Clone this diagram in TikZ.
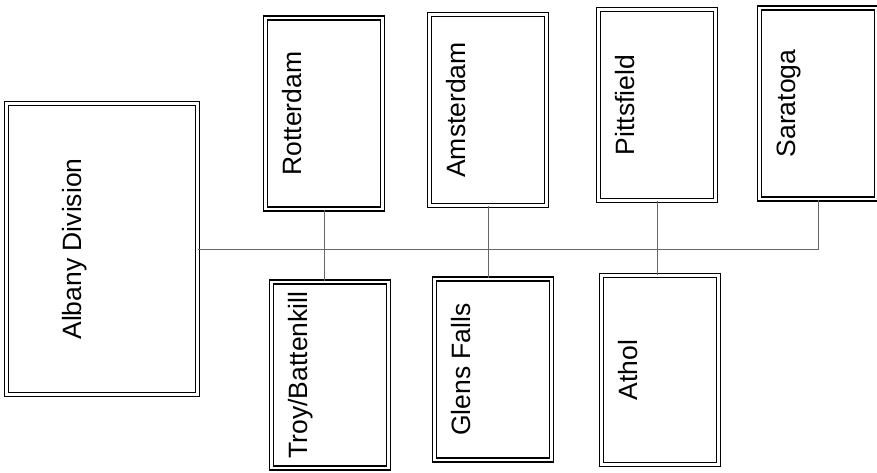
\documentclass[tikz,border=0pt]{standalone}
\usepackage{fontspec}
\setmainfont{Liberation Sans}
\usetikzlibrary{positioning}

\begin{document}
\begin{tikzpicture}[
  x=1pt, y=-1pt,
  box/.style={draw, double, line width=1.5pt, double distance=2.2pt, minimum width=117pt, minimum height=191pt, inner sep=0pt},
  lbl/.style={rotate=90, anchor=base, inner sep=0pt, font=\fontsize{26.5}{30}\selectfont},
  link/.style={draw=black!60, line width=0.6pt}
]
\useasboundingbox (0,0) rectangle (877,473);

\node[box, minimum width=191pt, minimum height=291pt] (albany) at (102,249) {};
\node[box] (rotterdam) at (324,113.5) {};
\node[box, minimum height=186pt] (troy) at (330,375) {};
\node[box] (amsterdam) at (488,110) {};
\node[box, minimum height=181pt] (glens) at (493,369.5) {};
\node[box] (pittsfield) at (657,105) {};
\node[box, minimum height=189pt] (athol) at (660,370) {};
\node[box] (saratoga) at (818,103.5) {};

\node[lbl] (albany-t) at ([xshift=76pt]albany.west) {Albany Division};
\node[lbl] (rotterdam-t) at ([xshift=37pt]rotterdam.west) {Rotterdam};
\node[lbl] (troy-t) at ([xshift=37pt]troy.west) {Troy/Battenkill};
\node[lbl] (amsterdam-t) at ([xshift=37pt]amsterdam.west) {Amsterdam};
\node[lbl] (glens-t) at ([xshift=37pt]glens.west) {Glens Falls};
\node[lbl] (pittsfield-t) at ([xshift=37pt]pittsfield.west) {Pittsfield};
\node[lbl] (athol-t) at ([xshift=37pt]athol.west) {Athol};
\node[lbl] (saratoga-t) at ([xshift=37pt]saratoga.west) {Saratoga};

% trunk and branches
\draw[link] (albany.east) -- (albany.east -| saratoga.south) -- (saratoga.south);
\draw[link] (rotterdam.south) -- (rotterdam.south |- troy.north);
\draw[link] (amsterdam.south) -- (amsterdam.south |- glens.north);
\draw[link] (pittsfield.south) -- (pittsfield.south |- athol.north);
\end{tikzpicture}
\end{document}
